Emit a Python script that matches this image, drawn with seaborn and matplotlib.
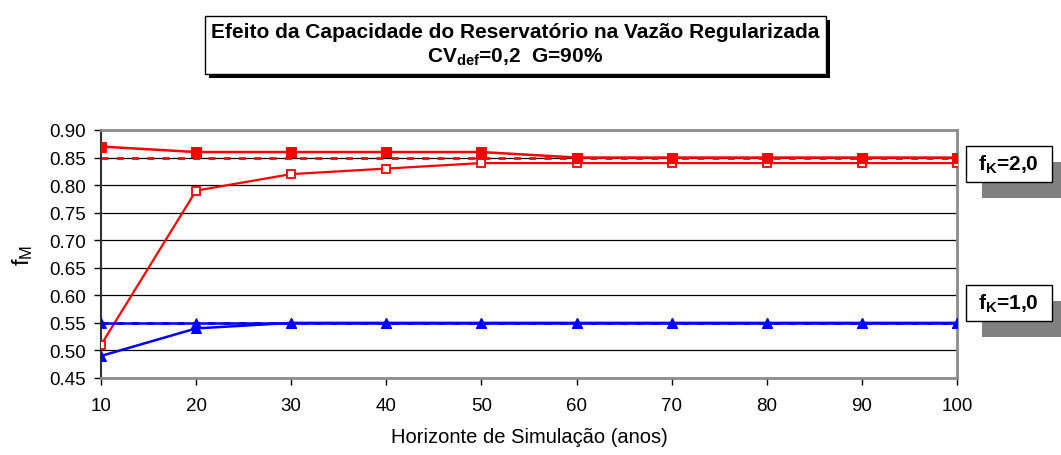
import matplotlib
matplotlib.use("Agg")
import matplotlib.pyplot as plt
from matplotlib.patches import Rectangle
import seaborn as sns

# -----------------------------
# DATA
# -----------------------------
horizonte = [10, 20, 30, 40, 50, 60, 70, 80, 90, 100]
fm_k2_a = [0.87, 0.86, 0.86, 0.86, 0.86, 0.85, 0.85, 0.85, 0.85, 0.85]
fm_k2_b = [0.51, 0.79, 0.82, 0.83, 0.84, 0.84, 0.84, 0.84, 0.84, 0.84]
fm_k1_a = [0.55, 0.55, 0.55, 0.55, 0.55, 0.55, 0.55, 0.55, 0.55, 0.55]
fm_k1_b = [0.49, 0.54, 0.55, 0.55, 0.55, 0.55, 0.55, 0.55, 0.55, 0.55]
ref_k2 = 0.85
ref_k1 = 0.55
y_ticks = [0.45, 0.50, 0.55, 0.60, 0.65, 0.70, 0.75, 0.80, 0.85, 0.90]

# -----------------------------
# CONFIG
# -----------------------------
sns.set_style("white")
plt.rcParams["font.family"] = ["Liberation Sans", "DejaVu Sans"]
plt.rcParams["mathtext.fontset"] = "custom"
plt.rcParams["mathtext.rm"] = "Liberation Sans"
plt.rcParams["mathtext.bf"] = "Liberation Sans:bold"
plt.rcParams["mathtext.it"] = "Liberation Sans:italic"
for key in ["text.color", "axes.labelcolor", "xtick.color", "ytick.color"]:
    plt.rcParams[key] = "black"

fig = plt.figure(figsize=(10.61, 4.56), dpi=100)
ax = fig.add_axes([101 / 1061, 1 - 379 / 456, (957 - 101) / 1061, (379 - 131) / 456])

# gridlines
for t in y_ticks:
    ax.axhline(t, color="black", lw=0.9, zorder=1)

# reference dashed lines
ax.plot([horizonte[0], horizonte[-1]], [ref_k2, ref_k2], color="red",
        lw=2, ls=(0, (2.5, 3)), zorder=2)
ax.plot([horizonte[0], horizonte[-1]], [ref_k1, ref_k1], color="blue",
        lw=2, ls=(0, (2.5, 3)), zorder=2)

sns.lineplot(x=horizonte, y=fm_k2_b, ax=ax, color="red", lw=1.6,
             marker="s", markersize=6, markerfacecolor="white",
             markeredgecolor="red", markeredgewidth=1.3, zorder=3)
sns.lineplot(x=horizonte, y=fm_k2_a, ax=ax, color="red", lw=1.8,
             marker="s", markersize=7.5, markeredgecolor="red", zorder=4)
sns.lineplot(x=horizonte, y=fm_k1_b, ax=ax, color="blue", lw=1.8,
             marker="^", markersize=7, markeredgecolor="blue", zorder=3)
sns.lineplot(x=horizonte, y=fm_k1_a, ax=ax, color="blue", lw=1.8,
             marker="^", markersize=7, markeredgecolor="blue", zorder=4)

ax.set_xlim(10, 100)
ax.set_ylim(0.45, 0.90)
ax.set_xticks(horizonte)
ax.set_yticks(y_ticks)
ax.set_yticklabels([f"{t:.2f}" for t in y_ticks])
ax.tick_params(axis="both", direction="out", length=5, width=1,
               labelsize=13.5, colors="black", bottom=True, left=True)
ax.tick_params(axis="x", pad=9)
ax.tick_params(axis="y", pad=6)

for side in ["top", "right", "bottom"]:
    ax.spines[side].set_color("#8c8c8c")
    ax.spines[side].set_linewidth(2)
ax.spines["left"].set_color("#303030")
ax.spines["left"].set_linewidth(1.5)

ax.set_xlabel("Horizonte de Simulação (anos)", fontsize=14.5, labelpad=9)
ax.set_ylabel(r"f$_\mathrm{M}$", fontsize=17, labelpad=10)


# -----------------------------
# BOXES
# -----------------------------
def px_rect(x0, y0, x1, y1, **kw):
    return Rectangle((x0 / 1061, 1 - y1 / 456), (x1 - x0) / 1061,
                     (y1 - y0) / 456, transform=fig.transFigure, **kw)


# title box with black shadow
fig.patches.append(px_rect(209, 21, 830, 79, facecolor="black", edgecolor="none"))
fig.patches.append(px_rect(205, 17, 826, 75, facecolor="white", edgecolor="black", lw=1))
fig.text(515 / 1061, 1 - 32 / 456,
         "Efeito da Capacidade do Reservatório na Vazão Regularizada",
         ha="center", va="center", fontsize=15, fontweight="bold")
fig.text(515 / 1061, 1 - 57 / 456,
         r"$\mathbf{CV_{def}}$" + "=0,2  G=90%",
         ha="center", va="center", fontsize=15, fontweight="bold")

# right-hand labels with gray shadows
for y0, label in [(147, r"f$_\mathbf{K}$=2,0"), (286, r"f$_\mathbf{K}$=1,0")]:
    fig.patches.append(px_rect(982, y0 + 16, 1061, y0 + 52, facecolor="#808080", edgecolor="none"))
    fig.patches.append(px_rect(966, y0, 1052, y0 + 36, facecolor="white", edgecolor="black", lw=1))
    fig.text(1008 / 1061, 1 - (y0 + 18) / 456, label, ha="center", va="center",
             fontsize=15, fontweight="bold")

fig.savefig("out.png", dpi=100)
